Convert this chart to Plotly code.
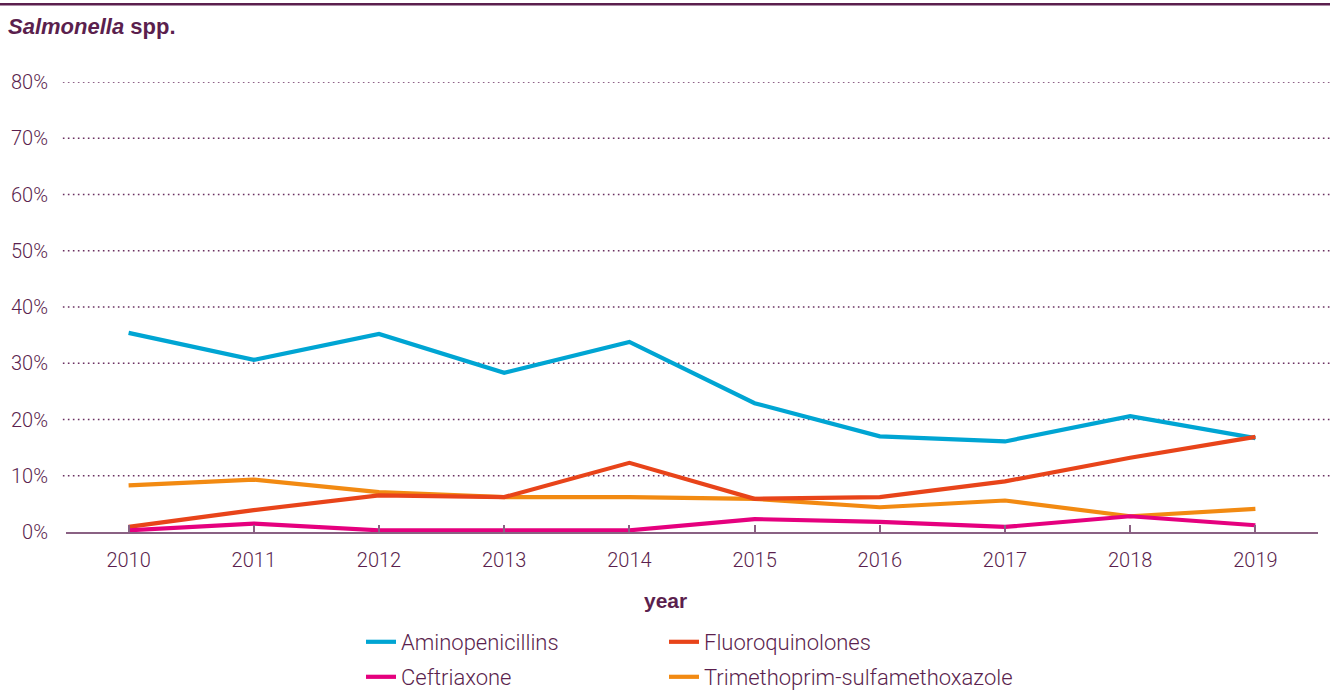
import plotly.graph_objects as go

# Resistance share (%) of Salmonella spp. isolates by year
years = [2010, 2011, 2012, 2013, 2014, 2015, 2016, 2017, 2018, 2019]
aminopenicillins = [35.4, 30.6, 35.2, 28.3, 33.8, 22.9, 17.0, 16.1, 20.6, 16.7]
fluoroquinolones = [0.9, 3.9, 6.5, 6.2, 12.3, 5.9, 6.2, 9.0, 13.2, 16.9]
ceftriaxone = [0.3, 1.5, 0.3, 0.3, 0.3, 2.3, 1.8, 0.9, 2.8, 1.2]
trimethoprim_sulfa = [8.3, 9.3, 7.1, 6.2, 6.2, 5.9, 4.4, 5.6, 2.8, 4.1]
y_ticks = [0, 10, 20, 30, 40, 50, 60, 70, 80]
y_labels = [f"{v}%" for v in y_ticks]

PURPLE = "#5b1f4e"
AXIS = "#8a6183"
FONT = "Roboto"
BOLD_FONT = "Liberation Sans"

fig = go.Figure()

# (name, values, colour, legend slot); drawing order keeps red over blue, magenta over orange
series = [
    ("Aminopenicillins", aminopenicillins, "#00a5d3", "legend"),
    ("Trimethoprim-sulfamethoxazole", trimethoprim_sulfa, "#f28a12", "legend4"),
    ("Fluoroquinolones", fluoroquinolones, "#e8441a", "legend2"),
    ("Ceftriaxone", ceftriaxone, "#e5007e", "legend3"),
]
for name, vals, color, leg in series:
    fig.add_trace(go.Scatter(
        x=years, y=vals, name=name, mode="lines",
        line=dict(color=color, width=4.2),
        legend=leg,
    ))

# dotted horizontal guides (above zero), reaching to the right edge
for v in y_ticks[1:]:
    fig.add_shape(type="line", xref="paper", yref="y",
                  x0=-0.0025, x1=1.0096, y0=v, y1=v,
                  line=dict(color="#6a2f60", width=1.6, dash="1.6px,3.4px"),
                  layer="below")

# rule across the top
fig.add_shape(type="line", xref="paper", yref="paper",
              x0=-0.06, x1=1.02, y0=1.173, y1=1.173,
              line=dict(color=PURPLE, width=2.5))

fig.add_annotation(
    text="<b><i>Salmonella</i> spp.</b>", xref="paper", yref="paper",
    x=-0.0482, y=1.124, xanchor="left", yanchor="middle",
    showarrow=False, font=dict(family=BOLD_FONT, size=22, color=PURPLE),
)
fig.add_annotation(
    text="<b>year</b>", xref="paper", yref="paper",
    x=(665 - 66) / 1252, y=-0.152, xanchor="center", yanchor="middle",
    showarrow=False, font=dict(family=BOLD_FONT, size=21, color=PURPLE),
)

legend_common = dict(
    orientation="h", xref="container", yref="container",
    xanchor="left", yanchor="middle",
    font=dict(family=FONT, size=22, color=PURPLE, weight=300),
    bgcolor="rgba(0,0,0,0)", itemwidth=30,
)
col1_x, col2_x = 361 / 1330, 664 / 1330
row1_y, row2_y = 1 - 642 / 691, 1 - 677 / 691

fig.update_layout(
    width=1330, height=691,
    margin=dict(l=66, r=12, t=82, b=691 - 532),
    paper_bgcolor="white", plot_bgcolor="white",
    showlegend=True,
    legend=dict(x=col1_x, y=row1_y, **legend_common),
    legend2=dict(x=col2_x, y=row1_y, **legend_common),
    legend3=dict(x=col1_x, y=row2_y, **legend_common),
    legend4=dict(x=col2_x, y=row2_y, **legend_common),
    xaxis=dict(
        range=[2009.5, 2019.5], tickvals=years, ticktext=[str(y) for y in years],
        showgrid=False, zeroline=False,
        showline=True, linecolor=AXIS, linewidth=2,
        ticks="inside", ticklen=7, tickwidth=1.5, tickcolor=AXIS,
        tickfont=dict(family=FONT, size=20, color=PURPLE, weight=300),
        ticklabelstandoff=9,
    ),
    yaxis=dict(
        range=[0, 80], tickvals=y_ticks, ticktext=y_labels,
        showgrid=False, zeroline=False, showline=False, ticks="",
        tickfont=dict(family=FONT, size=20, color=PURPLE, weight=300),
        ticklabelstandoff=17,
    ),
)

fig.write_html("out.html")
